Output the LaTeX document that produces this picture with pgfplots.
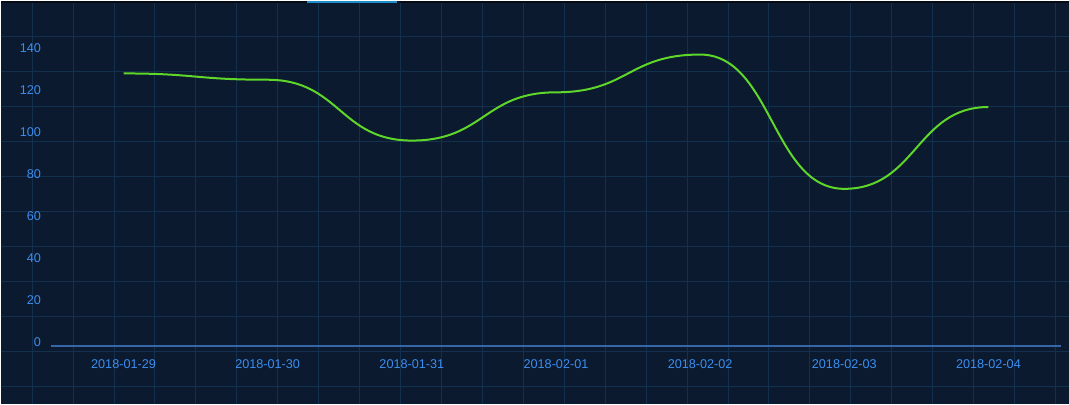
\documentclass[border=0pt]{standalone}
\usepackage{pgfplots}
\pgfplotsset{compat=1.18}
\usepackage{fontspec}
\setmainfont{Liberation Sans}
\definecolor{bg}{HTML}{0B1A2F}
\definecolor{gridc}{HTML}{14304F}
\definecolor{txt}{HTML}{3B8EF0}
\definecolor{axisc}{HTML}{3766A8}
\definecolor{linec}{HTML}{5ED62A}
\definecolor{topbar}{HTML}{070C14}
\definecolor{tabc}{HTML}{1E8FCB}

% plot handler: cubic pieces with level tangents at every data point
\makeatletter
\def\pgfplothandlerhsmooth{%
  \def\pgf@plotstreamstart{%
    \global\let\pgf@plotstreampoint=\pgf@plot@hs@first
    \global\let\pgf@plotstreamspecial=\@gobble
    \global\let\pgf@plotstreamend=\relax
  }%
}
\def\pgf@plot@hs@first#1{%
  \pgf@process{#1}%
  \xdef\pgf@hs@px{\the\pgf@x}\xdef\pgf@hs@py{\the\pgf@y}%
  \pgf@plot@first@action{\pgfqpoint{\pgf@hs@px}{\pgf@hs@py}}%
  \global\let\pgf@plotstreampoint=\pgf@plot@hs@next
}
\def\pgf@plot@hs@next#1{%
  \pgf@process{#1}%
  \pgf@xa=\pgf@x \pgf@ya=\pgf@y
  \pgf@xb=\pgf@xa \advance\pgf@xb by -\pgf@hs@px\relax
  \pgf@xb=0.5\pgf@xb
  \pgf@xc=\pgf@hs@px\relax \advance\pgf@xc by \pgf@xb
  \pgf@yc=\pgf@xa \advance\pgf@yc by -\pgf@xb
  \edef\pgf@hs@cmd{\noexpand\pgfpathcurveto
    {\noexpand\pgfqpoint{\the\pgf@xc}{\pgf@hs@py}}%
    {\noexpand\pgfqpoint{\the\pgf@yc}{\the\pgf@ya}}%
    {\noexpand\pgfqpoint{\the\pgf@xa}{\the\pgf@ya}}}%
  \xdef\pgf@hs@px{\the\pgf@xa}\xdef\pgf@hs@py{\the\pgf@ya}%
  \pgf@hs@cmd
}
\tikzset{hsmooth/.code={\let\tikz@plot@handler=\pgfplothandlerhsmooth}}
\makeatother

\begin{document}
\begin{tikzpicture}
% page background and the decorative grid, in pixels (y down)
\begin{scope}[x=0.75pt,y=-0.75pt]
  \fill[bg] (0,0) rectangle (1069,404);
  \foreach \k in {0,...,25}
    \draw[gridc,line width=0.75pt] ({31.7+40.97*\k},0) -- ({31.7+40.97*\k},404);
  \foreach \k in {0,...,10}
    \draw[gridc,line width=0.75pt] (0,{36+35.07*\k}) -- (1069,{36+35.07*\k});
  \fill[topbar] (0,0) rectangle (1069,2.5);
  \draw[tabc,line width=1.2pt] (307,1.2) -- (397,1.2);
\end{scope}

\begin{axis}[
  at={(38.25pt,-259.5pt)}, anchor=south west,
  width=757.5pt, height=220.5pt, scale only axis,
  xmin=-0.5, xmax=6.5, ymin=0, ymax=140,
  axis x line=bottom, axis y line=left,
  x axis line style={axisc, line width=1.5pt, -},
  y axis line style={draw=none},
  major tick length=0pt, tick style={draw=none},
  xtick={0,...,6},
  xticklabels={2018-01-29,2018-01-30,2018-01-31,2018-02-01,2018-02-02,2018-02-03,2018-02-04},
  ytick={0,20,...,140},
  /pgf/number format/assume math mode=true,
  ticklabel style={font=\fontsize{9.5}{11}\selectfont, text=txt},
  xticklabel style={anchor=center, yshift=-13.3pt},
  yticklabel style={anchor=east, xshift=-4.3pt, yshift=3pt},
  clip=false,
]
\addplot[linec, line width=1.5pt, hsmooth] coordinates {
  (0,130) (1,127) (2,98) (3,121) (4,139) (5,75) (6,114)
};
\end{axis}
\end{tikzpicture}
\end{document}
